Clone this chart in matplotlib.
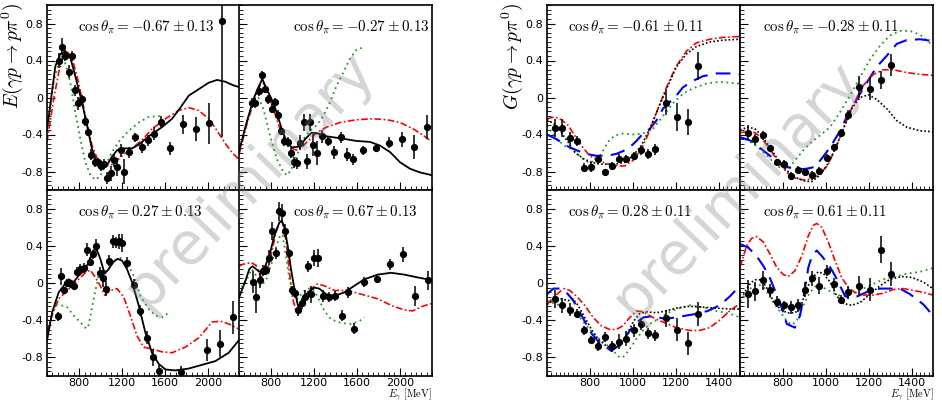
import matplotlib
matplotlib.use("Agg")
import matplotlib.pyplot as plt
from matplotlib.ticker import MultipleLocator, FixedLocator, FixedFormatter

plt.rcParams['mathtext.fontset'] = 'cm'
plt.rcParams['font.family'] = ['DejaVu Sans']

# ---------------- E, cos = -0.67 ----------------
e1_x = [612, 640, 671, 702, 733, 761, 792, 823, 854, 882, 913, 945, 976, 1004, 1035, 1063,
        1094, 1125, 1156, 1187, 1218, 1262, 1321, 1383, 1445, 1498, 1561, 1647, 1766, 1887, 2008, 2130]
e1_y = [0.40, 0.55, 0.45, 0.28, 0.45, 0.08, -0.06, -0.02, -0.25, -0.37, -0.62, -0.70, -0.70, -0.74, -0.72, -0.87,
        -0.82, -0.68, -0.75, -0.57, -0.80, -0.59, -0.43, -0.54, -0.46, -0.39, -0.26, -0.55, -0.29, -0.34, -0.28, 0.83]
e1_err = [0.08, 0.09, 0.06, 0.07, 0.05, 0.06, 0.07, 0.05, 0.06, 0.05, 0.06, 0.05, 0.05, 0.05, 0.05, 0.07,
          0.08, 0.07, 0.10, 0.07, 0.14, 0.06, 0.05, 0.06, 0.06, 0.07, 0.06, 0.07, 0.10, 0.13, 0.22, 1.26]
e1_black = [(500, -0.35), (578, 0.34), (624, 0.47), (671, 0.50), (718, 0.43), (764, 0.23), (826, -0.05),
            (873, -0.30), (920, -0.56), (966, -0.70), (1013, -0.73), (1060, -0.73), (1106, -0.64),
            (1153, -0.57), (1215, -0.55), (1293, -0.55), (1355, -0.51), (1448, -0.42), (1573, -0.32),
            (1666, -0.23), (1744, -0.11), (1822, 0.02), (1915, 0.09), (2008, 0.16), (2086, 0.19),
            (2164, 0.17), (2241, 0.13), (2300, 0.11)]
e1_red = [(500, -0.48), (562, -0.02), (609, 0.27), (655, 0.47), (693, 0.49), (733, 0.43), (795, 0.16),
          (858, -0.20), (920, -0.52), (982, -0.70), (1044, -0.74), (1122, -0.72), (1200, -0.63),
          (1293, -0.55), (1386, -0.46), (1480, -0.34), (1604, -0.23), (1728, -0.14), (1822, -0.11),
          (1915, -0.14), (2008, -0.23), (2070, -0.33), (2164, -0.50), (2230, -0.60), (2300, -0.68)]
e1_green = [(500, -0.37), (562, 0.16), (609, 0.38), (645, 0.46), (680, 0.33), (718, 0.16), (764, -0.16),
            (811, -0.45), (858, -0.70), (904, -0.84), (951, -0.89), (997, -0.85), (1044, -0.74),
            (1106, -0.59), (1168, -0.48), (1262, -0.36), (1355, -0.27), (1448, -0.21), (1557, -0.20)]

# ---------------- E, cos = -0.27 ----------------
e2_x = [624, 652, 683, 711, 739, 774, 805, 833, 861, 892, 923, 954, 985, 1013, 1044, 1072, 1103,
        1134, 1165, 1193, 1224, 1271, 1330, 1389, 1448, 1507, 1567, 1660, 1778, 1899, 2017, 2136, 2257]
e2_y = [-0.06, -0.06, 0.07, 0.24, 0.09, -0.02, -0.12, -0.05, -0.19, -0.36, -0.47, -0.48, -0.60, -0.70, -0.71,
        -0.49, -0.27, -0.69, -0.27, -0.51, -0.60, -0.42, -0.47, -0.59, -0.43, -0.62, -0.67, -0.57, -0.55,
        -0.49, -0.45, -0.54, -0.32]
e2_err = [0.05, 0.05, 0.05, 0.05, 0.04, 0.05, 0.05, 0.05, 0.05, 0.05, 0.05, 0.05, 0.05, 0.06, 0.06, 0.08,
          0.09, 0.08, 0.09, 0.12, 0.13, 0.07, 0.05, 0.07, 0.06, 0.07, 0.06, 0.05, 0.04, 0.06, 0.08, 0.13, 0.13]
e2_black = [(500, -0.58), (571, -0.27), (634, -0.02), (680, 0.11), (718, 0.20), (758, 0.09), (805, -0.02),
            (851, -0.16), (898, -0.34), (945, -0.48), (991, -0.54), (1069, -0.53), (1116, -0.45),
            (1178, -0.38), (1240, -0.39), (1318, -0.42), (1442, -0.44), (1598, -0.47), (1722, -0.48),
            (1815, -0.52), (1909, -0.59), (2002, -0.70), (2095, -0.77), (2188, -0.81), (2300, -0.84)]
e2_red = [(500, -0.62), (571, -0.30), (634, -0.05), (696, 0.13), (727, 0.15), (774, 0.04), (820, -0.12),
          (882, -0.34), (945, -0.48), (1007, -0.56), (1053, -0.57), (1100, -0.52), (1162, -0.45),
          (1224, -0.38), (1318, -0.32), (1442, -0.27), (1598, -0.24), (1753, -0.23), (1878, -0.24),
          (2002, -0.27), (2126, -0.34), (2219, -0.41), (2300, -0.48)]
e2_green = [(500, -0.60), (571, -0.27), (634, -0.05), (680, 0.00), (727, -0.12), (789, -0.41), (851, -0.66),
            (914, -0.81), (951, -0.84), (991, -0.77), (1038, -0.63), (1100, -0.45), (1162, -0.36),
            (1224, -0.30), (1287, -0.20), (1349, -0.05), (1411, 0.13), (1473, 0.27), (1535, 0.42),
            (1598, 0.52), (1660, 0.54)]

# ---------------- E, cos = 0.27 ----------------
e3_x = [599, 627, 659, 690, 721, 749, 780, 811, 842, 870, 901, 932, 960, 991, 1022, 1050, 1081,
        1113, 1144, 1172, 1203, 1246, 1308, 1371, 1433, 1486, 1548, 1753, 1996, 2117, 2238]
e3_y = [-0.36, 0.07, -0.08, 0.00, -0.01, -0.03, 0.12, 0.15, 0.16, 0.36, 0.23, 0.31, 0.40, 0.11, 0.05, -0.06,
        0.24, 0.45, 0.44, 0.45, 0.43, 0.22, -0.02, -0.30, -0.59, -0.80, -0.95, -0.96, -0.72, -0.66, -0.37]
e3_err = [0.05, 0.09, 0.04, 0.04, 0.04, 0.04, 0.05, 0.05, 0.05, 0.07, 0.05, 0.05, 0.07, 0.06, 0.09, 0.08,
          0.06, 0.07, 0.06, 0.08, 0.10, 0.06, 0.06, 0.06, 0.07, 0.09, 0.07, 0.07, 0.12, 0.15, 0.18]
e3_black = [(500, -0.62), (547, -0.32), (609, -0.10), (655, -0.03), (702, 0.04), (749, 0.01), (795, 0.08),
            (842, 0.13), (889, 0.22), (935, 0.35), (957, 0.38), (997, 0.26), (1038, 0.10), (1075, 0.15),
            (1122, 0.23), (1159, 0.26), (1200, 0.24), (1246, 0.15), (1293, 0.01), (1355, -0.24),
            (1417, -0.53), (1479, -0.75), (1542, -0.87), (1604, -0.93), (1697, -0.94), (1822, -0.92),
            (1946, -0.88), (2070, -0.84), (2195, -0.75), (2300, -0.60)]
e3_red = [(500, -0.53), (547, -0.35), (609, -0.17), (671, -0.10), (733, -0.03), (795, 0.04), (858, 0.11),
          (904, 0.14), (951, 0.06), (997, -0.03), (1038, -0.13), (1091, -0.08), (1153, -0.06),
          (1215, -0.15), (1277, -0.35), (1340, -0.57), (1402, -0.69), (1479, -0.71), (1573, -0.74),
          (1666, -0.75), (1790, -0.69), (1915, -0.59), (2039, -0.42), (2117, -0.41), (2195, -0.44),
          (2300, -0.50)]
e3_green = [(585, -0.23), (609, -0.23), (687, -0.26), (764, -0.37), (826, -0.44), (864, -0.49),
            (889, -0.45), (935, -0.17), (982, 0.08), (1013, 0.13), (1060, 0.13), (1122, 0.24),
            (1184, 0.27), (1246, 0.22), (1308, 0.08), (1371, -0.14), (1448, -0.28), (1511, -0.35),
            (1573, -0.37), (1635, -0.32)]

# ---------------- E, cos = 0.67 ----------------
e4_x = [631, 662, 693, 721, 752, 783, 811, 842, 873, 904, 932, 963, 994, 1022, 1053, 1085, 1113,
        1144, 1175, 1203, 1234, 1280, 1340, 1399, 1458, 1517, 1576, 1669, 1787, 1909, 2027, 2145, 2266]
e4_y = [0.01, -0.15, 0.03, 0.13, 0.14, 0.27, 0.56, 0.32, 0.77, 0.75, 0.56, 0.32, -0.08, -0.11, -0.29, -0.22,
        -0.15, 0.18, -0.12, 0.27, 0.27, -0.14, -0.15, -0.14, -0.35, -0.10, -0.49, 0.01, 0.04, 0.20, 0.31,
        -0.14, 0.03]
e4_err = [0.12, 0.17, 0.08, 0.06, 0.05, 0.08, 0.10, 0.06, 0.10, 0.10, 0.07, 0.05, 0.05, 0.05, 0.06, 0.06,
          0.07, 0.06, 0.09, 0.09, 0.10, 0.06, 0.05, 0.05, 0.06, 0.06, 0.06, 0.05, 0.04, 0.06, 0.08, 0.11, 0.10]
e4_black = [(500, -0.16), (519, -0.10), (565, 0.04), (596, 0.15), (627, 0.18), (659, 0.15), (690, 0.12),
            (736, 0.16), (783, 0.29), (830, 0.51), (876, 0.65), (898, 0.67), (923, 0.60), (954, 0.40),
            (985, 0.15), (1016, -0.06), (1047, -0.23), (1069, -0.26), (1094, -0.21), (1141, -0.10),
            (1203, -0.05), (1249, -0.06), (1312, -0.12), (1389, -0.14), (1483, -0.10), (1576, -0.03),
            (1669, 0.04), (1794, 0.09), (1918, 0.11), (2042, 0.09), (2167, 0.06), (2300, 0.03)]
e4_red = [(500, 0.18), (534, 0.20), (612, 0.22), (659, 0.19), (705, 0.06), (752, 0.10), (799, 0.29),
          (845, 0.55), (886, 0.67), (907, 0.65), (938, 0.46), (970, 0.12), (1001, -0.17), (1032, -0.30),
          (1063, -0.32), (1109, -0.21), (1172, -0.06), (1234, -0.01), (1296, -0.03), (1389, -0.08),
          (1514, -0.08), (1669, -0.13), (1794, -0.17), (1918, -0.24), (2042, -0.29), (2120, -0.30),
          (2213, -0.25), (2300, -0.22)]
e4_green = [(500, -0.10), (519, -0.06), (581, 0.06), (618, 0.15), (659, 0.08), (705, -0.03), (752, 0.03),
            (799, 0.19), (845, 0.38), (886, 0.52), (907, 0.51), (938, 0.29), (970, 0.04), (1001, -0.10),
            (1047, -0.17), (1094, -0.10), (1141, -0.06), (1187, -0.06), (1234, -0.15), (1296, -0.30),
            (1358, -0.39), (1452, -0.43), (1545, -0.44), (1623, -0.41), (1669, -0.37)]

# ---------------- G, cos = -0.61 ----------------
g_x = [637, 672, 706, 738, 773, 805, 838, 872, 905, 937, 970, 1004, 1038, 1071, 1105, 1155, 1206, 1256, 1306]
g1_y = [-0.33, -0.33, -0.44, -0.47, -0.76, -0.75, -0.67, -0.81, -0.74, -0.66, -0.66, -0.63, -0.57, -0.61,
        -0.56, -0.06, -0.21, -0.26, 0.34]
g1_err = [0.10, 0.10, 0.07, 0.05, 0.05, 0.05, 0.05, 0.04, 0.04, 0.05, 0.04, 0.04, 0.05, 0.05, 0.06,
          0.13, 0.15, 0.14, 0.15]
g1_black = [(600, -0.24), (636, -0.29), (667, -0.38), (698, -0.48), (729, -0.59), (768, -0.66), (807, -0.70),
            (846, -0.72), (884, -0.72), (923, -0.72), (962, -0.70), (1001, -0.63), (1040, -0.52),
            (1079, -0.34), (1118, -0.12), (1157, 0.09), (1203, 0.33), (1250, 0.47), (1296, 0.55),
            (1359, 0.60), (1421, 0.62), (1500, 0.63)]
g1_red = [(600, -0.23), (636, -0.21), (667, -0.24), (698, -0.30), (729, -0.41), (760, -0.52), (799, -0.63),
          (838, -0.68), (884, -0.72), (931, -0.74), (962, -0.74), (1001, -0.68), (1040, -0.56),
          (1079, -0.36), (1118, -0.12), (1157, 0.11), (1203, 0.34), (1250, 0.50), (1296, 0.59),
          (1359, 0.63), (1421, 0.65), (1500, 0.66)]
g1_blue = [(600, -0.40), (644, -0.45), (690, -0.52), (737, -0.57), (783, -0.61), (830, -0.63), (877, -0.63),
           (923, -0.61), (954, -0.58), (985, -0.54), (1017, -0.47), (1048, -0.39), (1079, -0.34),
           (1110, -0.25), (1141, -0.12), (1172, -0.05), (1203, 0.02), (1234, 0.11), (1281, 0.18),
           (1327, 0.23), (1390, 0.26), (1452, 0.26), (1500, 0.25)]
g1_green = [(600, -0.30), (644, -0.45), (682, -0.52), (721, -0.57), (760, -0.65), (791, -0.70), (822, -0.69),
            (853, -0.61), (884, -0.48), (916, -0.41), (954, -0.39), (1001, -0.40), (1048, -0.39),
            (1094, -0.34), (1141, -0.20), (1188, -0.06), (1234, 0.04), (1281, 0.10), (1343, 0.15),
            (1405, 0.17), (1500, 0.15)]

# ---------------- G, cos = -0.28 ----------------
g2_y = [-0.38, -0.45, -0.41, -0.55, -0.70, -0.72, -0.85, -0.78, -0.81, -0.84, -0.79, -0.65, -0.54, -0.38,
        -0.19, 0.11, 0.09, 0.19, 0.35]
g2_err = [0.08, 0.06, 0.05, 0.04, 0.04, 0.04, 0.04, 0.04, 0.04, 0.05, 0.04, 0.04, 0.04, 0.04, 0.05,
          0.12, 0.12, 0.10, 0.12]
g2_black = [(600, -0.35), (639, -0.32), (670, -0.34), (701, -0.41), (740, -0.54), (779, -0.68), (818, -0.79),
            (856, -0.86), (895, -0.90), (934, -0.91), (973, -0.84), (1004, -0.74), (1043, -0.56),
            (1082, -0.34), (1121, -0.12), (1160, 0.00), (1198, 0.03), (1237, -0.02), (1284, -0.12),
            (1331, -0.25), (1377, -0.32), (1439, -0.36), (1500, -0.37)]
g2_red = [(600, -0.38), (639, -0.37), (670, -0.38), (701, -0.44), (740, -0.56), (779, -0.70), (818, -0.81),
          (856, -0.87), (895, -0.89), (934, -0.88), (973, -0.83), (1012, -0.72), (1051, -0.52),
          (1090, -0.29), (1129, -0.07), (1175, 0.13), (1222, 0.25), (1268, 0.30), (1315, 0.30),
          (1377, 0.27), (1439, 0.25), (1500, 0.24)]
g2_blue = [(600, -0.43), (631, -0.45), (662, -0.48), (701, -0.56), (740, -0.63), (779, -0.70), (818, -0.75),
           (864, -0.78), (911, -0.77), (950, -0.75), (981, -0.66), (1020, -0.54), (1059, -0.39),
           (1098, -0.21), (1144, -0.02), (1191, 0.16), (1237, 0.33), (1284, 0.45), (1331, 0.58),
           (1377, 0.62), (1439, 0.63), (1500, 0.61)]
g2_green = [(600, -0.44), (631, -0.46), (662, -0.50), (701, -0.57), (740, -0.66), (771, -0.74), (802, -0.77),
            (833, -0.75), (864, -0.66), (895, -0.57), (934, -0.48), (973, -0.41), (1020, -0.32),
            (1066, -0.16), (1113, 0.02), (1160, 0.22), (1206, 0.41), (1253, 0.56), (1300, 0.67),
            (1346, 0.72), (1393, 0.72), (1439, 0.68), (1500, 0.56)]

# ---------------- G, cos = 0.28 ----------------
g3_y = [-0.17, -0.24, -0.29, -0.33, -0.51, -0.61, -0.68, -0.58, -0.68, -0.63, -0.60, -0.51, -0.44, -0.54,
        -0.56, -0.38, -0.50, -0.65, -0.33]
g3_err = [0.10, 0.08, 0.07, 0.05, 0.05, 0.04, 0.05, 0.05, 0.06, 0.08, 0.08, 0.07, 0.06, 0.06, 0.06,
          0.09, 0.12, 0.12, 0.13]
g3_black = [(600, -0.23), (636, -0.17), (667, -0.17), (698, -0.19), (721, -0.17), (745, -0.24), (776, -0.37),
            (807, -0.50), (838, -0.60), (877, -0.68), (908, -0.70), (939, -0.68), (970, -0.57),
            (1001, -0.42), (1032, -0.33), (1063, -0.31), (1110, -0.32), (1157, -0.30), (1203, -0.27),
            (1265, -0.25), (1327, -0.26), (1390, -0.27), (1452, -0.28), (1500, -0.28)]
g3_red = [(600, -0.23), (636, -0.14), (667, -0.08), (682, -0.06), (706, -0.08), (737, -0.14), (776, -0.24),
          (815, -0.37), (853, -0.46), (892, -0.50), (923, -0.50), (954, -0.46), (986, -0.37),
          (1017, -0.30), (1048, -0.31), (1094, -0.37), (1141, -0.42), (1203, -0.48), (1265, -0.51),
          (1312, -0.51), (1359, -0.48), (1405, -0.40), (1452, -0.30), (1500, -0.22)]
g3_blue = [(600, -0.12), (630, -0.06), (660, -0.06), (690, -0.10), (720, -0.18), (750, -0.30), (780, -0.43),
           (810, -0.55), (840, -0.63), (870, -0.68), (900, -0.73), (930, -0.68), (960, -0.60),
           (990, -0.50), (1020, -0.42), (1050, -0.37), (1080, -0.36), (1110, -0.37), (1140, -0.38),
           (1170, -0.38), (1200, -0.37), (1250, -0.35), (1300, -0.33), (1350, -0.30), (1405, -0.24),
           (1450, -0.15), (1500, -0.03)]
g3_green = [(600, -0.19), (644, -0.23), (682, -0.25), (721, -0.30), (760, -0.39), (799, -0.50), (838, -0.59),
            (877, -0.66), (908, -0.73), (939, -0.80), (954, -0.80), (986, -0.71), (1017, -0.60),
            (1048, -0.51), (1079, -0.44), (1118, -0.39), (1157, -0.33), (1203, -0.28), (1265, -0.24),
            (1327, -0.26), (1390, -0.30), (1452, -0.33), (1500, -0.37)]

# ---------------- G, cos = 0.61 ----------------
g4_y = [-0.12, -0.09, 0.03, -0.08, -0.20, -0.24, -0.26, -0.24, -0.07, 0.05, -0.03, 0.13, -0.01, -0.18,
        -0.10, -0.03, -0.07, 0.36, 0.10]
g4_err = [0.15, 0.10, 0.10, 0.07, 0.06, 0.05, 0.07, 0.07, 0.08, 0.08, 0.09, 0.06, 0.06, 0.05, 0.07,
          0.10, 0.12, 0.15, 0.13]
g4_black = [(600, -0.20), (631, -0.06), (654, 0.01), (678, 0.04), (701, 0.03), (724, -0.05), (755, -0.19),
            (787, -0.28), (818, -0.32), (856, -0.32), (880, -0.28), (911, -0.06), (942, 0.07),
            (965, 0.12), (989, 0.10), (1020, 0.01), (1051, -0.14), (1082, -0.22), (1121, -0.24),
            (1160, -0.21), (1206, -0.12), (1253, -0.03), (1300, 0.04), (1354, 0.07), (1401, 0.06),
            (1455, 0.01), (1500, -0.06)]
g4_red = [(600, 0.17), (631, 0.40), (654, 0.48), (678, 0.50), (709, 0.44), (740, 0.31), (771, 0.17),
          (802, 0.09), (825, 0.07), (856, 0.13), (888, 0.29), (919, 0.51), (942, 0.62), (958, 0.64),
          (981, 0.60), (1012, 0.44), (1043, 0.24), (1074, 0.06), (1105, -0.05), (1136, -0.10),
          (1175, -0.13), (1222, -0.13), (1268, -0.11), (1315, -0.07), (1362, -0.06), (1408, -0.08),
          (1455, -0.10), (1500, -0.13)]
g4_blue = [(600, 0.42), (639, 0.38), (660, 0.33), (680, 0.28), (710, 0.18), (740, 0.05), (770, -0.12),
           (800, -0.30), (818, -0.44), (856, -0.48), (880, -0.35), (900, -0.10), (919, 0.17), (934, 0.28),
           (958, 0.35), (985, 0.28), (1020, 0.17), (1043, 0.08), (1090, -0.14), (1121, -0.17),
           (1160, -0.13), (1198, -0.09), (1253, -0.06), (1346, -0.06), (1393, -0.12), (1455, -0.23),
           (1500, -0.35)]
g4_green = [(600, -0.20), (631, -0.10), (662, -0.03), (685, -0.01), (717, -0.06), (755, -0.21), (794, -0.33),
            (818, -0.41), (841, -0.45), (864, -0.41), (895, -0.24), (926, -0.10), (958, -0.02),
            (981, -0.04), (1012, -0.08), (1051, -0.13), (1090, -0.14), (1129, -0.11), (1175, -0.06),
            (1222, -0.01), (1268, 0.04), (1315, 0.06), (1377, 0.10), (1439, 0.12), (1500, 0.16)]

e_labels = [r'$\cos\theta_{\pi} = -0.67 \pm 0.13$', r'$\cos\theta_{\pi} = -0.27 \pm 0.13$',
            r'$\cos\theta_{\pi} = 0.27 \pm 0.13$', r'$\cos\theta_{\pi} = 0.67 \pm 0.13$']
g_labels = [r'$\cos\theta_{\pi} = -0.61 \pm 0.11$', r'$\cos\theta_{\pi} = -0.28 \pm 0.11$',
            r'$\cos\theta_{\pi} = 0.28 \pm 0.11$', r'$\cos\theta_{\pi} = 0.61 \pm 0.11$']
e_ticks = [800, 1200, 1600, 2000]
g_ticks = [800, 1000, 1200, 1400]

styles = {
    'black': dict(color='black', lw=1.3, ls='-'),
    'red': dict(color='red', lw=1.2, ls=(0, (4, 1.5, 1, 1.5))),
    'green': dict(color='#1f9a1f', lw=1.3, ls=(0, (1, 2))),
    'kdot': dict(color='black', lw=1.2, ls=(0, (1, 1.3))),
    'blue': dict(color='blue', lw=1.5, ls=(0, (7, 4))),
}


def draw(ax, x, y, err, curves, label, lx, xlim, ticks, minor, show_x, show_y):
    for pts, st in curves:
        ax.plot([p[0] for p in pts], [p[1] for p in pts], **styles[st])
    ax.errorbar(x, y, yerr=err, fmt='o', color='black', ms=4.2, elinewidth=1.1, capsize=0, zorder=5)
    ax.set_xlim(*xlim)
    ax.set_ylim(-1, 1)
    ax.text(lx, 0.875, label, transform=ax.transAxes, fontsize=10.8, va='center')
    ax.xaxis.set_major_locator(FixedLocator(ticks))
    ax.xaxis.set_minor_locator(MultipleLocator(minor))
    ax.yaxis.set_major_locator(FixedLocator([-0.8, -0.4, 0, 0.4, 0.8]))
    ax.yaxis.set_minor_locator(MultipleLocator(0.05))
    ax.yaxis.set_major_formatter(FixedFormatter(['-0.8', '-0.4', '0', '0.4', '0.8']))
    ax.tick_params(which='both', direction='in', labelsize=8, pad=3)
    ax.tick_params(axis='x', pad=1.5)
    ax.tick_params(which='major', length=6)
    ax.tick_params(which='minor', length=3)
    if not show_x:
        ax.tick_params(labelbottom=False)
    if not show_y:
        ax.tick_params(labelleft=False)
    for s in ax.spines.values():
        s.set_linewidth(1.2)


fig = plt.figure(figsize=(9.42, 4.04), dpi=100)
W, H = 942.0, 404.0
pw = 193 / W
ph_top = 185 / H
ph_bot = 186 / H
y_top = (H - 190) / H
y_bot = (H - 376) / H

e_panels = [
    (47, y_top, ph_top, e1_x, e1_y, e1_err, [(e1_red, 'red'), (e1_green, 'green'), (e1_black, 'black')], 0.16, False, True),
    (239, y_top, ph_top, e2_x, e2_y, e2_err, [(e2_red, 'red'), (e2_green, 'green'), (e2_black, 'black')], 0.28, False, False),
    (47, y_bot, ph_bot, e3_x, e3_y, e3_err, [(e3_red, 'red'), (e3_green, 'green'), (e3_black, 'black')], 0.16, True, True),
    (239, y_bot, ph_bot, e4_x, e4_y, e4_err, [(e4_red, 'red'), (e4_green, 'green'), (e4_black, 'black')], 0.28, True, False),
]
for i, (x0, y0, h, x, y, err, curves, lx, sx, sy) in enumerate(e_panels):
    ax = fig.add_axes([x0 / W, y0, pw, h])
    draw(ax, x, y, err, curves, e_labels[i], lx, (500, 2300), e_ticks, 50, sx, sy)

g_panels = [
    (547, y_top, ph_top, g1_y, g1_err, [(g1_green, 'green'), (g1_blue, 'blue'), (g1_red, 'red'), (g1_black, 'kdot')], 0.11, False, True),
    (740, y_top, ph_top, g2_y, g2_err, [(g2_green, 'green'), (g2_blue, 'blue'), (g2_red, 'red'), (g2_black, 'kdot')], 0.12, False, False),
    (547, y_bot, ph_bot, g3_y, g3_err, [(g3_green, 'green'), (g3_blue, 'blue'), (g3_red, 'red'), (g3_black, 'kdot')], 0.11, True, True),
    (740, y_bot, ph_bot, g4_y, g4_err, [(g4_green, 'green'), (g4_blue, 'blue'), (g4_red, 'red'), (g4_black, 'kdot')], 0.12, True, False),
]
for i, (x0, y0, h, y, err, curves, lx, sx, sy) in enumerate(g_panels):
    ax = fig.add_axes([x0 / W, y0, pw, h])
    draw(ax, g_x, y, err, curves, g_labels[i], lx, (600, 1500), g_ticks, 20, sx, sy)

# axis titles
fig.text(12.5 / W, 1 - 3 / H, r'$E(\gamma p \rightarrow p\pi^{0})$', rotation=90, ha='center', va='top', fontsize=14)
fig.text(512.5 / W, 1 - 3 / H, r'$G(\gamma p \rightarrow p\pi^{0})$', rotation=90, ha='center', va='top', fontsize=14)
fig.text(432 / W, 1 / H, r'$E_{\gamma}\ [\mathrm{MeV}]$', ha='right', va='bottom', fontsize=7.5)
fig.text(934 / W, 1 / H, r'$E_{\gamma}\ [\mathrm{MeV}]$', ha='right', va='bottom', fontsize=7.5)

# watermark
fig.text(250 / W, 1 - 180 / H, 'preliminary', rotation=46, ha='center', va='center', fontsize=42,
         color='gray', alpha=0.33, zorder=20)
fig.text(738 / W, 1 - 190 / H, 'preliminary', rotation=46, ha='center', va='center', fontsize=42,
         color='gray', alpha=0.33, zorder=20)

fig.savefig('out.png', dpi=100)
